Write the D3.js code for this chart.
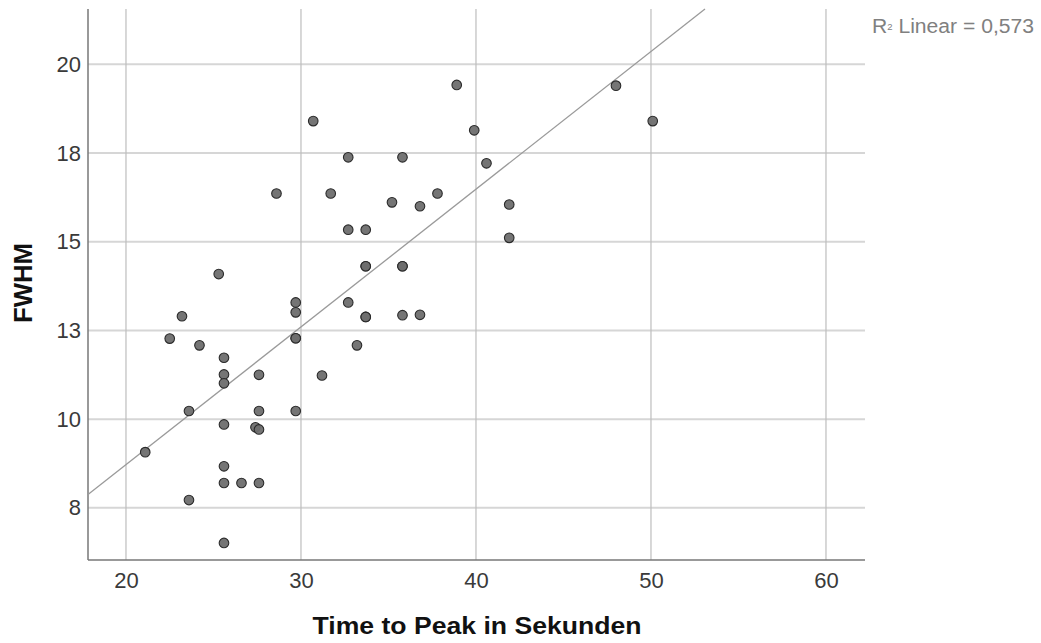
<!DOCTYPE html>
<html>
<head>
<meta charset="UTF-8">
<title>FWHM vs Time to Peak</title>
<script src="https://d3js.org/d3.v7.min.js"></script>
<style>
body { margin: 0; background: #fff; }
text { font-family: "Liberation Sans", Arial, sans-serif; }
</style>
</head>
<body>
<svg id="chart" width="1041" height="643"></svg>
<script>
// time to peak (s) and FWHM
var timeToPeak = [21.1, 22.5, 23.2, 24.2, 23.6, 23.6, 25.3, 25.6, 25.6, 25.6, 25.6, 25.6, 25.6, 26.6,
  27.6, 25.6, 27.6, 27.6, 27.4, 27.6, 28.6, 29.7, 29.7, 29.7, 29.7, 29.7, 30.7, 31.2, 31.7, 32.7,
  32.7, 32.7, 33.2, 33.7, 33.7, 33.7, 33.7, 33.7, 35.2, 35.8, 35.8, 35.8, 35.8, 36.8, 36.8, 37.8,
  38.9, 39.9, 40.6, 41.9, 41.9, 48.0, 50.1];
var fwhm = [9.07, 12.27, 12.90, 12.08, 10.23, 7.72, 14.09, 11.73, 11.26, 11.01, 9.85, 8.67, 8.20, 8.20,
  8.20, 6.51, 11.25, 10.23, 9.77, 9.71, 16.36, 13.29, 13.01, 12.28, 12.28, 10.23, 18.40, 11.23, 16.36, 17.38,
  15.34, 13.29, 12.08, 15.34, 14.31, 14.31, 12.88, 12.88, 16.11, 17.38, 14.31, 14.31, 12.93, 16.0, 12.94, 16.36,
  19.42, 18.14, 17.21, 16.05, 15.11, 19.40, 18.40];
var xTicks = [20, 30, 40, 50, 60];
var yTicks = [7.5, 10, 12.5, 15, 17.5, 20];
var rsqLabel = "0,573";

var svg = d3.select("#chart");
var pLeft = 88, pRight = 865, pTop = 9, pBottom = 560;

var x = d3.scaleLinear().domain([17.83, 62.23]).range([pLeft, pRight]);
var y = d3.scaleLinear().domain([6.03, 21.56]).range([pBottom, pTop]);

// grid
svg.append("g").selectAll("line").data(yTicks).enter().append("line")
  .attr("x1", pLeft).attr("x2", pRight)
  .attr("y1", function(d){ return y(d); }).attr("y2", function(d){ return y(d); })
  .attr("stroke", "#d6d6d6").attr("stroke-width", 2);
svg.append("g").selectAll("line").data(xTicks).enter().append("line")
  .attr("y1", pTop).attr("y2", pBottom)
  .attr("x1", function(d){ return x(d); }).attr("x2", function(d){ return x(d); })
  .attr("stroke", "#bdbdbd").attr("stroke-width", 1.2);

// axes
var xAxis = svg.append("g").attr("transform", "translate(0," + pBottom + ")")
  .call(d3.axisBottom(x).tickValues(xTicks).tickSize(0).tickPadding(12));
var yAxis = svg.append("g").attr("transform", "translate(" + pLeft + ",0)")
  .call(d3.axisLeft(y).tickValues(yTicks).tickSize(0).tickPadding(7)
    .tickFormat(function(d){ return Math.round(d); }));
xAxis.select(".domain").remove();
yAxis.select(".domain").remove();
[xAxis, yAxis].forEach(function(a){
  a.selectAll("text").attr("font-size", 22).attr("fill", "#3a3a3a")
    .attr("font-family", "'Liberation Sans', Arial, sans-serif");
});
svg.append("line").attr("x1", pLeft).attr("x2", pLeft).attr("y1", pTop).attr("y2", pBottom)
  .attr("stroke", "#777").attr("stroke-width", 1.5);
svg.append("line").attr("x1", pLeft).attr("x2", pRight).attr("y1", pBottom).attr("y2", pBottom)
  .attr("stroke", "#777").attr("stroke-width", 1.5);

// linear fit
var n = timeToPeak.length;
var mx = d3.mean(timeToPeak), my = d3.mean(fwhm);
var sxy = 0, sxx = 0;
for (var i = 0; i < n; i++) {
  sxy += (timeToPeak[i] - mx) * (fwhm[i] - my);
  sxx += (timeToPeak[i] - mx) * (timeToPeak[i] - mx);
}
var slope = sxy / sxx, icpt = my - slope * mx;
var x0 = x.domain()[0], x1 = (y.domain()[1] - icpt) / slope;
svg.append("line")
  .attr("x1", x(x0)).attr("y1", y(icpt + slope * x0))
  .attr("x2", x(x1)).attr("y2", y(icpt + slope * x1))
  .attr("stroke", "#9a9a9a").attr("stroke-width", 1.3);

// points
svg.append("g").selectAll("circle").data(timeToPeak).enter().append("circle")
  .attr("cx", function(d){ return x(d); })
  .attr("cy", function(d, i){ return y(fwhm[i]); })
  .attr("r", 4.8)
  .attr("fill", "#6e6e6e").attr("stroke", "#2a2a2a").attr("stroke-width", 1.1)
  .attr("fill-opacity", 0.95);

// titles
svg.append("text").attr("x", 477).attr("y", 634).attr("text-anchor", "middle")
  .attr("font-size", 24).attr("font-weight", "bold").attr("fill", "#111")
  .attr("textLength", 329).attr("lengthAdjust", "spacingAndGlyphs")
  .text("Time to Peak in Sekunden");
svg.append("text").attr("transform", "translate(32,283) rotate(-90)")
  .attr("text-anchor", "middle")
  .attr("font-size", 25).attr("font-weight", "bold").attr("fill", "#111")
  .attr("textLength", 80).attr("lengthAdjust", "spacingAndGlyphs")
  .text("FWHM");

var r2 = svg.append("text").attr("x", 872).attr("y", 33).attr("font-size", 20).attr("fill", "#808080")
  .attr("textLength", 162).attr("lengthAdjust", "spacingAndGlyphs");
r2.append("tspan").text("R");
r2.append("tspan").attr("font-size", 9).attr("dy", -3).text("2");
r2.append("tspan").attr("dy", 3).text(" Linear = " + rsqLabel);
</script>
</body>
</html>
